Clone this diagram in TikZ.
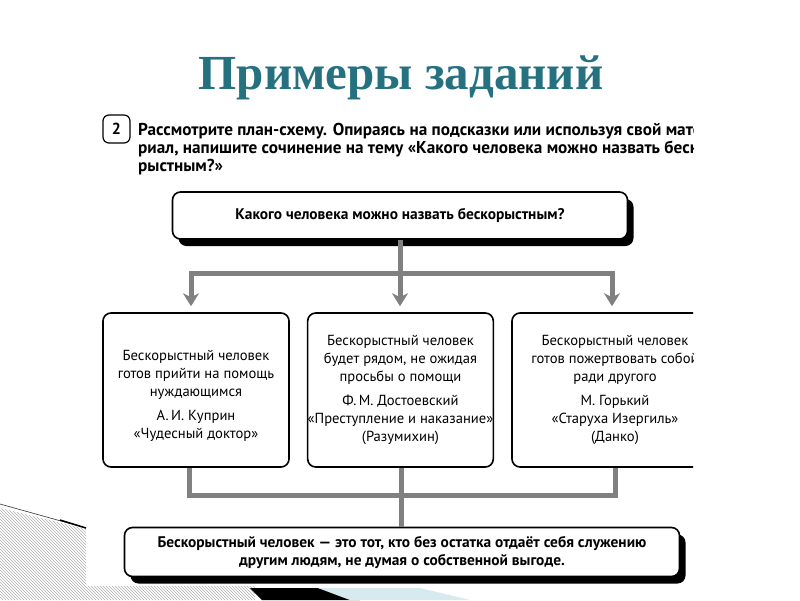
\documentclass[tikz,border=0pt]{standalone}
\usepackage{fontspec}
\setmainfont{PT Sans}
\newfontfamily\titlefont{Liberation Serif}
\usetikzlibrary{arrows.meta,patterns,shadows}
\definecolor{titleteal}{RGB}{38,113,128}
\definecolor{conn}{RGB}{128,128,128}
\definecolor{lblue}{RGB}{214,234,240}
\definecolor{hatch}{RGB}{175,175,175}
\begin{document}
\begin{tikzpicture}[x=1pt,y=-1pt,
  card/.style={draw=black,line width=1.6pt,rounded corners=8pt,fill=white,align=center,inner sep=0pt},
  shadowcard/.style={card,drop shadow={shadow xshift=6pt,shadow yshift=-7pt,opacity=1,fill=black}},
  conn/.style={draw=conn,line width=5pt},
  connarrow/.style={conn,-{Stealth[length=13pt,width=16pt,inset=4pt]},shorten >=6pt},
  boxtext/.style={font=\fontsize{14.6}{18}\selectfont},
  boldtext/.style={font=\fontsize{15.4}{18}\selectfont\bfseries},
  tasktext/.style={font=\fontsize{17.2}{18}\selectfont\bfseries}
]
\useasboundingbox (0,0) rectangle (800,600);
\fill[white] (0,0) rectangle (800,600);

% background decoration
\fill[pattern=north west lines,pattern color=hatch] (0,508) -- (86,529) -- (86,586) -- (255,586) -- (255,600) -- (0,600) -- cycle;
\draw[black!80,line width=0.6pt] (0,504) -- (86,528);
\draw[black,line width=1.5pt] (60,520) -- (86,528);
\fill[black] (250,588) -- (318,588) -- (360,600) -- (262,600) -- cycle;
\fill[lblue] (318,588) -- (420,588) -- (470,600) -- (350,600) -- cycle;

% title
\node[font=\titlefont\fontsize{49}{56}\selectfont\bfseries,text=titleteal] (title) at (401,78) {Примеры заданий};

\begin{scope}
\clip (0,100) rectangle (693,600);

% task number and task text
\node[draw=black,line width=1.2pt,rounded corners=6pt,minimum width=27pt,minimum height=28pt,inner sep=0pt,font=\fontsize{16}{18}\selectfont\bfseries] (num) at (116.5,129) {2};
\node[anchor=north west,align=left,inner sep=0pt,tasktext] (task) at (138,123) {Рассмотрите план-схему. Опираясь на подсказки или используя свой мате-\\риал, напишите сочинение на тему «Какого человека можно назвать беско-\\рыстным?»};

% top question
\node[shadowcard,minimum width=455pt,minimum height=47pt,boldtext] (q) at (400,215.5) {Какого человека можно назвать бескорыстным?};

% three boxes
\node[card,minimum width=186pt,minimum height=154pt,boxtext] (b1) at (196,390)
  {\rule{0pt}{22pt}Бескорыстный человек\\готов прийти на помощь\\нуждающимся\\[6pt]А.\,И. Куприн\\«Чудесный доктор»};
\node[card,minimum width=185pt,minimum height=154pt,boxtext] (b2) at (400.5,390)
  {Бескорыстный человек\\будет рядом, не ожидая\\просьбы о помощи\\[6pt]Ф.\,М. Достоевский\\«Преступление и наказание»\\(Разумихин)};
\node[card,minimum width=206pt,minimum height=154pt,boxtext] (b3) at (615,390)
  {Бескорыстный человек\\готов пожертвовать собой\\ради другого\\[6pt]М. Горький\\«Старуха Изергиль»\\(Данко)};

% conclusion
\node[shadowcard,minimum width=555pt,minimum height=49pt,boldtext] (res) at (402,552)
  {Бескорыстный человек — это тот, кто без остатка отдаёт себя служению\\другим людям, не думая о собственной выгоде.};

% connectors top
\coordinate (tm) at (400,273);
\coordinate (tl) at (191,273);
\coordinate (tr) at (612,273);
\draw[conn] (q.south) -- (tm);
\draw[conn,line cap=rect] (tl) -- (tr);
\draw[connarrow] (tl) -- (tl |- b1.north);
\draw[connarrow] (tm) -- (tm |- b2.north);
\draw[connarrow] (tr) -- (tr |- b3.north);

% connectors bottom
\coordinate (bl) at (189,495);
\coordinate (br) at (615,495);
\draw[conn] (bl |- b1.south) -- (bl) -- (br) -- (br |- b3.south);
\draw[conn] (b2.south -| 401,0) -- (res.north -| 401,0);
\end{scope}
\end{tikzpicture}
\end{document}
